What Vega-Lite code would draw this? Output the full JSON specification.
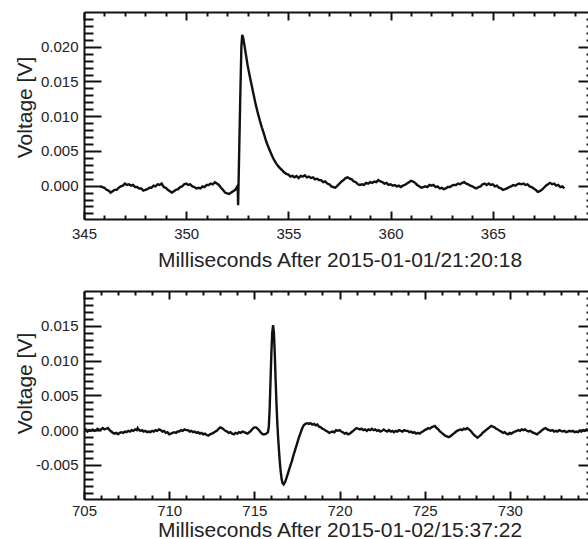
{
"$schema":"https://vega.github.io/schema/vega-lite/v6.json",
"padding":{"left":14,"top":11,"right":0,"bottom":0},
"config":{"view":{"stroke":null},"font":"Liberation Sans",
"axis":{"labelFont":"Liberation Sans","titleFont":"Liberation Sans","labelColor":"#222","titleColor":"#222","titleFontWeight":"normal","labelFontSize":15,"titleFontSize":21,"grid":false,"domainColor":"#111","domainWidth":2,"tickColor":"#111","tickWidth":2,"labelFlush":false,"labelOverlap":false,"labelBound":false}},
"spacing":20,
"datasets":{
"top":[{"t":345.8,"v":-0.0001},{"t":345.9,"v":-0.0002},{"t":346.0,"v":-0.0003},{"t":346.1,"v":-0.0006},{"t":346.2,"v":-0.0007},{"t":346.3,"v":-0.001},{"t":346.4,"v":-0.0008},{"t":346.5,"v":-0.0006},{"t":346.6,"v":-0.0006},{"t":346.7,"v":-0.0003},{"t":346.8,"v":-0.0001},{"t":346.9,"v":0.0},{"t":347.0,"v":0.0003},{"t":347.1,"v":0.0001},{"t":347.2,"v":0.0002},{"t":347.3,"v":0.0},{"t":347.4,"v":0.0001},{"t":347.5,"v":-0.0002},{"t":347.6,"v":-0.0002},{"t":347.7,"v":-0.0004},{"t":347.8,"v":-0.0004},{"t":347.9,"v":-0.0007},{"t":348.0,"v":-0.0006},{"t":348.1,"v":-0.0005},{"t":348.2,"v":-0.0003},{"t":348.3,"v":-0.0003},{"t":348.4,"v":0.0},{"t":348.5,"v":-0.0001},{"t":348.6,"v":0.0002},{"t":348.7,"v":0.0001},{"t":348.8,"v":0.0003},{"t":348.9,"v":-0.0002},{"t":349.0,"v":-0.0003},{"t":349.1,"v":-0.0006},{"t":349.2,"v":-0.0008},{"t":349.3,"v":-0.001},{"t":349.4,"v":-0.0008},{"t":349.5,"v":-0.0006},{"t":349.6,"v":-0.0005},{"t":349.7,"v":-0.0002},{"t":349.8,"v":-0.0001},{"t":349.9,"v":0.0002},{"t":350.0,"v":0.0003},{"t":350.1,"v":0.0001},{"t":350.2,"v":0.0002},{"t":350.3,"v":-0.0001},{"t":350.4,"v":-0.0002},{"t":350.5,"v":-0.0004},{"t":350.6,"v":-0.0003},{"t":350.7,"v":-0.0004},{"t":350.8,"v":-0.0001},{"t":350.9,"v":-0.0002},{"t":351.0,"v":0.0001},{"t":351.1,"v":0.0001},{"t":351.2,"v":0.0003},{"t":351.3,"v":0.0002},{"t":351.4,"v":0.0005},{"t":351.5,"v":0.0003},{"t":351.6,"v":0.0001},{"t":351.7,"v":-0.0003},{"t":351.8,"v":-0.0006},{"t":351.9,"v":-0.001},{"t":352.0,"v":-0.0011},{"t":352.1,"v":-0.0012},{"t":352.2,"v":-0.001},{"t":352.3,"v":-0.0008},{"t":352.4,"v":-0.0006},{"t":352.48,"v":-0.0002},{"t":352.52,"v":0.0},{"t":352.54,"v":-0.0028},{"t":352.58,"v":0.003},{"t":352.64,"v":0.012},{"t":352.7,"v":0.02},{"t":352.74,"v":0.0217},{"t":352.78,"v":0.0214},{"t":352.85,"v":0.0202},{"t":352.92,"v":0.0189},{"t":353.0,"v":0.0174},{"t":353.1,"v":0.0159},{"t":353.2,"v":0.0145},{"t":353.3,"v":0.0131},{"t":353.4,"v":0.0117},{"t":353.5,"v":0.0105},{"t":353.6,"v":0.0094},{"t":353.7,"v":0.0084},{"t":353.8,"v":0.0075},{"t":353.9,"v":0.0065},{"t":354.0,"v":0.0057},{"t":354.1,"v":0.005},{"t":354.2,"v":0.0043},{"t":354.3,"v":0.0037},{"t":354.4,"v":0.0032},{"t":354.5,"v":0.0028},{"t":354.6,"v":0.0025},{"t":354.7,"v":0.0022},{"t":354.8,"v":0.0019},{"t":354.9,"v":0.0017},{"t":355.0,"v":0.0016},{"t":355.1,"v":0.0013},{"t":355.2,"v":0.0014},{"t":355.3,"v":0.0012},{"t":355.4,"v":0.0014},{"t":355.5,"v":0.0011},{"t":355.6,"v":0.0014},{"t":355.7,"v":0.0013},{"t":355.8,"v":0.0015},{"t":355.9,"v":0.0012},{"t":356.0,"v":0.0013},{"t":356.1,"v":0.0011},{"t":356.2,"v":0.0012},{"t":356.3,"v":0.0009},{"t":356.4,"v":0.001},{"t":356.5,"v":0.0008},{"t":356.6,"v":0.0008},{"t":356.7,"v":0.0005},{"t":356.8,"v":0.0006},{"t":356.9,"v":0.0003},{"t":357.0,"v":0.0002},{"t":357.1,"v":-0.0001},{"t":357.2,"v":-0.0002},{"t":357.3,"v":-0.0003},{"t":357.4,"v":0.0},{"t":357.5,"v":0.0003},{"t":357.6,"v":0.0006},{"t":357.7,"v":0.0008},{"t":357.8,"v":0.0011},{"t":357.9,"v":0.0012},{"t":358.0,"v":0.001},{"t":358.1,"v":0.0009},{"t":358.2,"v":0.0006},{"t":358.3,"v":0.0005},{"t":358.4,"v":0.0002},{"t":358.5,"v":0.0001},{"t":358.6,"v":0.0002},{"t":358.7,"v":0.0001},{"t":358.8,"v":0.0004},{"t":358.9,"v":0.0003},{"t":359.0,"v":0.0005},{"t":359.1,"v":0.0004},{"t":359.2,"v":0.0006},{"t":359.3,"v":0.0005},{"t":359.4,"v":0.0008},{"t":359.5,"v":0.0006},{"t":359.6,"v":0.0005},{"t":359.7,"v":0.0003},{"t":359.8,"v":0.0004},{"t":359.9,"v":0.0001},{"t":360.0,"v":0.0002},{"t":360.1,"v":0.0},{"t":360.2,"v":0.0001},{"t":360.3,"v":-0.0001},{"t":360.4,"v":0.0},{"t":360.5,"v":-0.0002},{"t":360.6,"v":0.0},{"t":360.7,"v":0.0001},{"t":360.8,"v":0.0003},{"t":360.9,"v":0.0005},{"t":361.0,"v":0.0007},{"t":361.1,"v":0.0006},{"t":361.2,"v":0.0004},{"t":361.3,"v":0.0001},{"t":361.4,"v":-0.0001},{"t":361.5,"v":-0.0003},{"t":361.6,"v":-0.0002},{"t":361.7,"v":-0.0001},{"t":361.8,"v":-0.0002},{"t":361.9,"v":0.0001},{"t":362.0,"v":0.0},{"t":362.1,"v":0.0001},{"t":362.2,"v":-0.0002},{"t":362.3,"v":-0.0001},{"t":362.4,"v":-0.0004},{"t":362.5,"v":-0.0003},{"t":362.6,"v":-0.0005},{"t":362.7,"v":-0.0004},{"t":362.8,"v":-0.0002},{"t":362.9,"v":-0.0002},{"t":363.0,"v":0.0},{"t":363.1,"v":0.0001},{"t":363.2,"v":0.0001},{"t":363.3,"v":0.0003},{"t":363.4,"v":0.0002},{"t":363.5,"v":0.0004},{"t":363.6,"v":0.0005},{"t":363.7,"v":0.0003},{"t":363.8,"v":0.0002},{"t":363.9,"v":0.0},{"t":364.0,"v":-0.0001},{"t":364.1,"v":-0.0003},{"t":364.2,"v":-0.0004},{"t":364.3,"v":-0.0002},{"t":364.4,"v":-0.0001},{"t":364.5,"v":0.0002},{"t":364.6,"v":0.0003},{"t":364.7,"v":0.0001},{"t":364.8,"v":0.0003},{"t":364.9,"v":0.0001},{"t":365.0,"v":0.0002},{"t":365.1,"v":-0.0001},{"t":365.2,"v":0.0},{"t":365.3,"v":-0.0003},{"t":365.4,"v":-0.0004},{"t":365.5,"v":-0.0006},{"t":365.6,"v":-0.0005},{"t":365.7,"v":-0.0004},{"t":365.8,"v":-0.0002},{"t":365.9,"v":-0.0001},{"t":366.0,"v":0.0001},{"t":366.1,"v":0.0},{"t":366.2,"v":0.0002},{"t":366.3,"v":0.0003},{"t":366.4,"v":0.0002},{"t":366.5,"v":0.0003},{"t":366.6,"v":0.0001},{"t":366.7,"v":0.0002},{"t":366.8,"v":-0.0001},{"t":366.9,"v":-0.0002},{"t":367.0,"v":-0.0004},{"t":367.1,"v":-0.0006},{"t":367.2,"v":-0.0009},{"t":367.3,"v":-0.0008},{"t":367.4,"v":-0.0006},{"t":367.5,"v":-0.0003},{"t":367.6,"v":0.0},{"t":367.7,"v":0.0002},{"t":367.8,"v":0.0004},{"t":367.9,"v":0.0002},{"t":368.0,"v":0.0003},{"t":368.1,"v":0.0},{"t":368.2,"v":0.0001},{"t":368.3,"v":-0.0002},{"t":368.4,"v":-0.0001},{"t":368.5,"v":-0.0004}],
"bottom":[{"t":705.0,"v":-0.0001},{"t":705.1,"v":0.0001},{"t":705.2,"v":-0.0002},{"t":705.3,"v":0.0},{"t":705.4,"v":-0.0001},{"t":705.5,"v":0.0001},{"t":705.6,"v":-0.0001},{"t":705.7,"v":0.0},{"t":705.8,"v":0.0002},{"t":705.9,"v":0.0},{"t":706.0,"v":0.0001},{"t":706.1,"v":0.0003},{"t":706.2,"v":0.0001},{"t":706.3,"v":0.0002},{"t":706.4,"v":0.0003},{"t":706.5,"v":0.0},{"t":706.6,"v":-0.0002},{"t":706.7,"v":-0.0004},{"t":706.8,"v":-0.0005},{"t":706.9,"v":-0.0004},{"t":707.0,"v":-0.0006},{"t":707.1,"v":-0.0004},{"t":707.2,"v":-0.0003},{"t":707.3,"v":-0.0004},{"t":707.4,"v":-0.0002},{"t":707.5,"v":-0.0003},{"t":707.6,"v":-0.0001},{"t":707.7,"v":-0.0002},{"t":707.8,"v":0.0},{"t":707.9,"v":-0.0001},{"t":708.0,"v":0.0001},{"t":708.1,"v":0.0},{"t":708.15,"v":0.0003},{"t":708.2,"v":0.0001},{"t":708.3,"v":-0.0001},{"t":708.4,"v":0.0},{"t":708.5,"v":-0.0002},{"t":708.6,"v":-0.0001},{"t":708.7,"v":-0.0003},{"t":708.8,"v":-0.0002},{"t":708.9,"v":-0.0003},{"t":709.0,"v":-0.0001},{"t":709.1,"v":-0.0002},{"t":709.2,"v":0.0},{"t":709.3,"v":-0.0001},{"t":709.4,"v":0.0001},{"t":709.5,"v":0.0},{"t":709.6,"v":-0.0002},{"t":709.7,"v":-0.0001},{"t":709.8,"v":-0.0004},{"t":709.9,"v":-0.0003},{"t":710.0,"v":-0.0006},{"t":710.1,"v":-0.0005},{"t":710.2,"v":-0.0004},{"t":710.3,"v":-0.0003},{"t":710.4,"v":-0.0004},{"t":710.5,"v":-0.0002},{"t":710.6,"v":-0.0002},{"t":710.7,"v":0.0},{"t":710.8,"v":-0.0001},{"t":710.9,"v":0.0001},{"t":711.0,"v":0.0},{"t":711.1,"v":0.0},{"t":711.2,"v":-0.0002},{"t":711.3,"v":-0.0001},{"t":711.4,"v":-0.0003},{"t":711.5,"v":-0.0002},{"t":711.6,"v":-0.0004},{"t":711.7,"v":-0.0003},{"t":711.8,"v":-0.0005},{"t":711.9,"v":-0.0004},{"t":712.0,"v":-0.0006},{"t":712.1,"v":-0.0005},{"t":712.2,"v":-0.0007},{"t":712.3,"v":-0.0008},{"t":712.4,"v":-0.0006},{"t":712.5,"v":-0.0005},{"t":712.6,"v":-0.0004},{"t":712.7,"v":-0.0002},{"t":712.8,"v":-0.0001},{"t":712.9,"v":0.0002},{"t":713.0,"v":0.0004},{"t":713.1,"v":0.0003},{"t":713.2,"v":0.0001},{"t":713.3,"v":-0.0001},{"t":713.4,"v":-0.0002},{"t":713.5,"v":-0.0004},{"t":713.6,"v":-0.0003},{"t":713.7,"v":-0.0005},{"t":713.8,"v":-0.0006},{"t":713.9,"v":-0.0004},{"t":714.0,"v":-0.0005},{"t":714.1,"v":-0.0003},{"t":714.2,"v":-0.0004},{"t":714.3,"v":-0.0002},{"t":714.4,"v":-0.0003},{"t":714.5,"v":-0.0004},{"t":714.6,"v":-0.0005},{"t":714.7,"v":-0.0003},{"t":714.8,"v":-0.0001},{"t":714.9,"v":0.0002},{"t":715.0,"v":0.0004},{"t":715.1,"v":0.0004},{"t":715.2,"v":0.0002},{"t":715.3,"v":-0.0001},{"t":715.4,"v":-0.0004},{"t":715.5,"v":-0.0006},{"t":715.6,"v":-0.0006},{"t":715.7,"v":-0.0005},{"t":715.8,"v":-0.0003},{"t":715.85,"v":0.0005},{"t":715.9,"v":0.003},{"t":715.95,"v":0.007},{"t":716.0,"v":0.011},{"t":716.05,"v":0.014},{"t":716.1,"v":0.0151},{"t":716.15,"v":0.014},{"t":716.2,"v":0.011},{"t":716.25,"v":0.0072},{"t":716.3,"v":0.0038},{"t":716.35,"v":0.001},{"t":716.4,"v":-0.0012},{"t":716.45,"v":-0.003},{"t":716.5,"v":-0.0047},{"t":716.55,"v":-0.006},{"t":716.6,"v":-0.007},{"t":716.65,"v":-0.0076},{"t":716.72,"v":-0.0078},{"t":716.8,"v":-0.0075},{"t":716.9,"v":-0.0068},{"t":717.0,"v":-0.006},{"t":717.1,"v":-0.0052},{"t":717.2,"v":-0.0045},{"t":717.3,"v":-0.0036},{"t":717.4,"v":-0.0028},{"t":717.5,"v":-0.002},{"t":717.6,"v":-0.0012},{"t":717.7,"v":-0.0005},{"t":717.8,"v":0.0002},{"t":717.9,"v":0.0007},{"t":718.0,"v":0.0009},{"t":718.1,"v":0.001},{"t":718.2,"v":0.0009},{"t":718.3,"v":0.001},{"t":718.4,"v":0.0008},{"t":718.5,"v":0.0009},{"t":718.6,"v":0.0007},{"t":718.7,"v":0.0008},{"t":718.8,"v":0.0005},{"t":718.9,"v":0.0004},{"t":719.0,"v":0.0002},{"t":719.1,"v":0.0001},{"t":719.2,"v":-0.0001},{"t":719.3,"v":-0.0002},{"t":719.4,"v":-0.0004},{"t":719.5,"v":-0.0003},{"t":719.6,"v":-0.0002},{"t":719.7,"v":-0.0003},{"t":719.8,"v":0.0},{"t":719.9,"v":-0.0001},{"t":720.0,"v":0.0},{"t":720.1,"v":-0.0002},{"t":720.2,"v":-0.0003},{"t":720.3,"v":-0.0005},{"t":720.4,"v":-0.0004},{"t":720.5,"v":-0.0006},{"t":720.6,"v":-0.0005},{"t":720.7,"v":-0.0003},{"t":720.8,"v":-0.0001},{"t":720.9,"v":0.0001},{"t":721.0,"v":0.0003},{"t":721.1,"v":0.0002},{"t":721.2,"v":0.0001},{"t":721.3,"v":0.0002},{"t":721.4,"v":0.0},{"t":721.5,"v":0.0001},{"t":721.6,"v":-0.0001},{"t":721.7,"v":0.0001},{"t":721.8,"v":0.0},{"t":721.9,"v":0.0002},{"t":722.0,"v":0.0},{"t":722.1,"v":0.0001},{"t":722.2,"v":-0.0001},{"t":722.3,"v":0.0},{"t":722.4,"v":-0.0002},{"t":722.5,"v":-0.0001},{"t":722.6,"v":0.0001},{"t":722.7,"v":-0.0001},{"t":722.8,"v":-0.0002},{"t":722.9,"v":0.0},{"t":723.0,"v":-0.0002},{"t":723.1,"v":-0.0001},{"t":723.2,"v":-0.0003},{"t":723.3,"v":-0.0001},{"t":723.4,"v":-0.0002},{"t":723.5,"v":0.0},{"t":723.6,"v":-0.0001},{"t":723.7,"v":-0.0002},{"t":723.8,"v":0.0},{"t":723.9,"v":-0.0001},{"t":724.0,"v":-0.0001},{"t":724.1,"v":-0.0003},{"t":724.2,"v":-0.0002},{"t":724.3,"v":-0.0004},{"t":724.4,"v":-0.0003},{"t":724.5,"v":-0.0005},{"t":724.6,"v":-0.0004},{"t":724.7,"v":-0.0005},{"t":724.8,"v":-0.0003},{"t":724.9,"v":-0.0002},{"t":725.0,"v":0.0},{"t":725.1,"v":0.0001},{"t":725.2,"v":0.0003},{"t":725.3,"v":0.0002},{"t":725.4,"v":0.0004},{"t":725.5,"v":0.0005},{"t":725.6,"v":0.0006},{"t":725.7,"v":0.0003},{"t":725.8,"v":0.0001},{"t":725.9,"v":-0.0002},{"t":726.0,"v":-0.0004},{"t":726.1,"v":-0.0006},{"t":726.2,"v":-0.0008},{"t":726.3,"v":-0.0009},{"t":726.4,"v":-0.001},{"t":726.5,"v":-0.0009},{"t":726.6,"v":-0.0007},{"t":726.7,"v":-0.0005},{"t":726.8,"v":-0.0003},{"t":726.9,"v":-0.0001},{"t":727.0,"v":0.0},{"t":727.1,"v":0.0001},{"t":727.2,"v":0.0},{"t":727.3,"v":0.0002},{"t":727.4,"v":0.0001},{"t":727.5,"v":0.0003},{"t":727.6,"v":0.0001},{"t":727.7,"v":-0.0001},{"t":727.8,"v":-0.0004},{"t":727.9,"v":-0.0007},{"t":728.0,"v":-0.0009},{"t":728.1,"v":-0.0011},{"t":728.2,"v":-0.0009},{"t":728.3,"v":-0.0007},{"t":728.4,"v":-0.0004},{"t":728.5,"v":-0.0002},{"t":728.6,"v":0.0},{"t":728.7,"v":0.0002},{"t":728.8,"v":0.0004},{"t":728.9,"v":0.0006},{"t":729.0,"v":0.0005},{"t":729.1,"v":0.0004},{"t":729.2,"v":0.0002},{"t":729.3,"v":0.0001},{"t":729.4,"v":-0.0001},{"t":729.5,"v":-0.0002},{"t":729.6,"v":-0.0004},{"t":729.7,"v":-0.0003},{"t":729.8,"v":-0.0005},{"t":729.9,"v":-0.0006},{"t":730.0,"v":-0.0004},{"t":730.1,"v":-0.0005},{"t":730.2,"v":-0.0003},{"t":730.3,"v":-0.0002},{"t":730.4,"v":-0.0001},{"t":730.5,"v":0.0},{"t":730.6,"v":-0.0001},{"t":730.7,"v":0.0001},{"t":730.8,"v":0.0},{"t":730.9,"v":0.0001},{"t":731.0,"v":-0.0001},{"t":731.1,"v":-0.0002},{"t":731.2,"v":-0.0001},{"t":731.3,"v":-0.0003},{"t":731.4,"v":-0.0004},{"t":731.5,"v":-0.0005},{"t":731.6,"v":-0.0006},{"t":731.7,"v":-0.0004},{"t":731.8,"v":-0.0002},{"t":731.9,"v":0.0},{"t":732.0,"v":0.0002},{"t":732.1,"v":0.0003},{"t":732.2,"v":0.0001},{"t":732.3,"v":0.0},{"t":732.4,"v":-0.0001},{"t":732.5,"v":0.0},{"t":732.6,"v":-0.0002},{"t":732.7,"v":-0.0001},{"t":732.8,"v":-0.0002},{"t":732.9,"v":0.0},{"t":733.0,"v":-0.0001},{"t":733.1,"v":-0.0002},{"t":733.2,"v":-0.0001},{"t":733.3,"v":-0.0003},{"t":733.4,"v":-0.0002},{"t":733.5,"v":-0.0001},{"t":733.6,"v":-0.0002},{"t":733.7,"v":-0.0001},{"t":733.8,"v":-0.0003},{"t":733.9,"v":-0.0002},{"t":734.0,"v":-0.0003},{"t":734.1,"v":-0.0001},{"t":734.2,"v":-0.0002},{"t":734.3,"v":0.0},{"t":734.4,"v":-0.0001},{"t":734.5,"v":0.0001},{"t":734.6,"v":0.0},{"t":734.7,"v":-0.0001},{"t":734.8,"v":0.0},{"t":734.9,"v":-0.0001},{"t":735.0,"v":0.0}]
},
"vconcat":[
{
"width":511,"height":207,
"data":{"name":"top"},
"layer":[
{"mark":{"type":"line","color":"#111","strokeWidth":2.4,"clip":true},
"encoding":{
"x":{"field":"t","type":"quantitative","scale":{"domain":[345,370],"nice":false,"zero":false},
"axis":{"orient":"bottom","values":[345,346,347,348,349,350,351,352,353,354,355,356,357,358,359,360,361,362,363,364,365,366,367,368,369],"format":"d","labelExpr":"datum.value % 5 === 0 ? datum.label : ''","tickSize":{"condition":{"test":"datum.value % 5 === 0","value":-8},"value":-4},"labelPadding":15,"title":"Milliseconds After 2015-01-01/21:20:18","titleBaseline":"alphabetic","titleY":47}},
"y":{"field":"v","type":"quantitative","scale":{"domain":[-0.0048,0.025],"nice":false,"zero":false},
"axis":{"orient":"left","values":[-0.004,-0.003,-0.002,-0.001,0,0.001,0.002,0.003,0.004,0.005,0.006,0.007,0.008,0.009,0.01,0.011,0.012,0.013,0.014,0.015,0.016,0.017,0.018,0.019,0.02,0.021,0.022,0.023,0.024],"format":".3f","labelExpr":"round(datum.value*1000) % 5 === 0 ? replace(datum.label, '\u2212', '-') : ''","tickSize":{"condition":{"test":"round(datum.value*1000) % 5 === 0","value":-17},"value":-9},"labelPadding":23,"title":"Voltage [V]","titleBaseline":"alphabetic","titleX":-52.5,"titleY":95}}
}},
{"mark":{"type":"line","strokeOpacity":0},
"encoding":{
"x":{"field":"t","type":"quantitative","axis":{"orient":"top","values":[345,346,347,348,349,350,351,352,353,354,355,356,357,358,359,360,361,362,363,364,365,366,367,368,369],"labels":false,"title":null,"tickSize":{"condition":{"test":"datum.value % 5 === 0","value":-8},"value":-4}}},
"y":{"field":"v","type":"quantitative","axis":{"orient":"right","values":[-0.004,-0.003,-0.002,-0.001,0,0.001,0.002,0.003,0.004,0.005,0.006,0.007,0.008,0.009,0.01,0.011,0.012,0.013,0.014,0.015,0.016,0.017,0.018,0.019,0.02,0.021,0.022,0.023,0.024],"labels":false,"title":null,"tickSize":{"condition":{"test":"round(datum.value*1000) % 5 === 0","value":-17},"value":-9}}}
}}
],
"resolve":{"axis":{"x":"independent","y":"independent"}}
},
{
"width":511,"height":208,
"data":{"name":"bottom"},
"layer":[
{"mark":{"type":"line","color":"#111","strokeWidth":2.4,"clip":true},
"encoding":{
"x":{"field":"t","type":"quantitative","scale":{"domain":[705,735],"nice":false,"zero":false},
"axis":{"orient":"bottom","values":[705,706,707,708,709,710,711,712,713,714,715,716,717,718,719,720,721,722,723,724,725,726,727,728,729,730,731,732,733,734],"format":"d","labelExpr":"datum.value % 5 === 0 ? datum.label : ''","tickSize":{"condition":{"test":"datum.value % 5 === 0","value":-8},"value":-4},"labelPadding":12,"title":"Milliseconds After 2015-01-02/15:37:22","titleBaseline":"alphabetic","titleY":37}},
"y":{"field":"v","type":"quantitative","scale":{"domain":[-0.0099,0.02],"nice":false,"zero":false},
"axis":{"orient":"left","values":[-0.009,-0.008,-0.007,-0.006,-0.005,-0.004,-0.003,-0.002,-0.001,0,0.001,0.002,0.003,0.004,0.005,0.006,0.007,0.008,0.009,0.01,0.011,0.012,0.013,0.014,0.015,0.016,0.017,0.018,0.019],"format":".3f","labelExpr":"round(datum.value*1000) % 5 === 0 ? replace(datum.label, '\u2212', '-') : ''","tickSize":{"condition":{"test":"round(datum.value*1000) % 5 === 0","value":-17},"value":-9},"labelPadding":23,"title":"Voltage [V]","titleBaseline":"alphabetic","titleX":-52.5,"titleY":92}}
}},
{"mark":{"type":"line","strokeOpacity":0},
"encoding":{
"x":{"field":"t","type":"quantitative","axis":{"orient":"top","values":[705,706,707,708,709,710,711,712,713,714,715,716,717,718,719,720,721,722,723,724,725,726,727,728,729,730,731,732,733,734],"labels":false,"title":null,"tickSize":{"condition":{"test":"datum.value % 5 === 0","value":-8},"value":-4}}},
"y":{"field":"v","type":"quantitative","axis":{"orient":"right","values":[-0.009,-0.008,-0.007,-0.006,-0.005,-0.004,-0.003,-0.002,-0.001,0,0.001,0.002,0.003,0.004,0.005,0.006,0.007,0.008,0.009,0.01,0.011,0.012,0.013,0.014,0.015,0.016,0.017,0.018,0.019],"labels":false,"title":null,"tickSize":{"condition":{"test":"round(datum.value*1000) % 5 === 0","value":-17},"value":-9}}}
}}
],
"resolve":{"axis":{"x":"independent","y":"independent"}}
}
]
}
